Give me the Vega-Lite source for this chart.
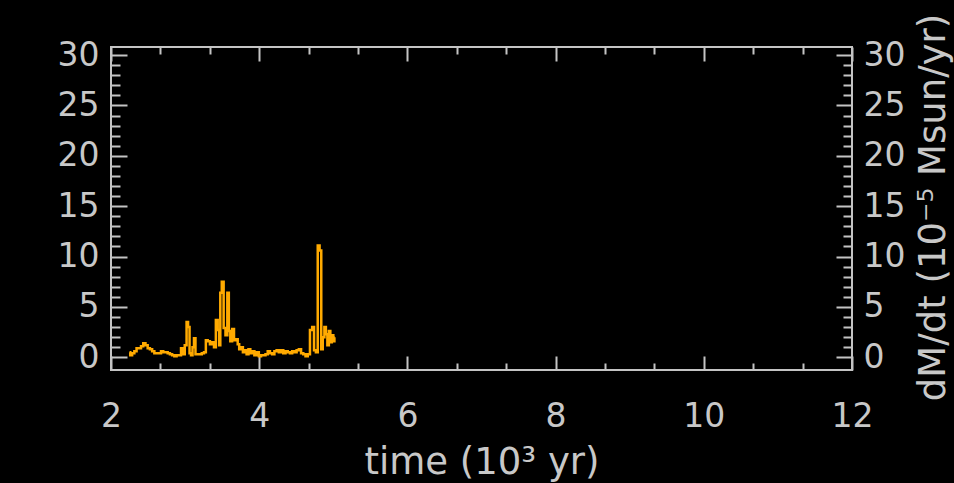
{
  "$schema": "https://vega.github.io/schema/vega-lite/v6.json",
  "autosize": {"type": "none"},
  "padding": {"left": 111, "top": 47, "right": 102, "bottom": 113},
  "width": 741,
  "height": 323,
  "background": "#000000",
  "config": {
    "view": {"stroke": "#c4c4c4", "strokeWidth": 2},
    "axis": {
      "labelFont": "DejaVu Sans",
      "labelColor": "#c8c8c8",
      "labelFontSize": 33,
      "titleFont": "DejaVu Sans",
      "titleColor": "#c8c8c8",
      "titleFontSize": 37,
      "titleFontWeight": "normal",
      "domain": false,
      "grid": false,
      "tickColor": "#c4c4c4",
      "tickWidth": 2,
      "labelFlush": false,
      "labelOverlap": false
    }
  },
  "data": {
    "values": [
      {"t": 2.25, "dmdt": 0.5}, {"t": 2.27, "dmdt": 0.2}, {"t": 2.30, "dmdt": 0.4}, {"t": 2.33, "dmdt": 0.6},
      {"t": 2.36, "dmdt": 0.9}, {"t": 2.39, "dmdt": 0.9}, {"t": 2.42, "dmdt": 1.1}, {"t": 2.45, "dmdt": 1.4},
      {"t": 2.48, "dmdt": 1.2}, {"t": 2.51, "dmdt": 0.9}, {"t": 2.54, "dmdt": 0.8}, {"t": 2.57, "dmdt": 0.6},
      {"t": 2.60, "dmdt": 0.4}, {"t": 2.63, "dmdt": 0.4}, {"t": 2.66, "dmdt": 0.4}, {"t": 2.69, "dmdt": 0.6},
      {"t": 2.72, "dmdt": 0.5}, {"t": 2.75, "dmdt": 0.5}, {"t": 2.78, "dmdt": 0.4}, {"t": 2.81, "dmdt": 0.3},
      {"t": 2.84, "dmdt": 0.2}, {"t": 2.87, "dmdt": 0.1}, {"t": 2.90, "dmdt": 0.2}, {"t": 2.93, "dmdt": 0.2},
      {"t": 2.96, "dmdt": 0.9}, {"t": 2.98, "dmdt": 0.3}, {"t": 3.01, "dmdt": 1.2}, {"t": 3.03, "dmdt": 3.5},
      {"t": 3.05, "dmdt": 3.0}, {"t": 3.07, "dmdt": 0.4}, {"t": 3.09, "dmdt": 0.2}, {"t": 3.11, "dmdt": 1.0},
      {"t": 3.13, "dmdt": 1.9}, {"t": 3.15, "dmdt": 0.3}, {"t": 3.18, "dmdt": 0.3}, {"t": 3.21, "dmdt": 0.3},
      {"t": 3.24, "dmdt": 0.4}, {"t": 3.27, "dmdt": 0.5}, {"t": 3.29, "dmdt": 1.7}, {"t": 3.32, "dmdt": 1.6},
      {"t": 3.35, "dmdt": 1.3}, {"t": 3.38, "dmdt": 1.5}, {"t": 3.40, "dmdt": 1.0}, {"t": 3.43, "dmdt": 3.7},
      {"t": 3.45, "dmdt": 2.7}, {"t": 3.47, "dmdt": 1.2}, {"t": 3.48, "dmdt": 6.4}, {"t": 3.51, "dmdt": 7.5},
      {"t": 3.53, "dmdt": 2.9}, {"t": 3.56, "dmdt": 2.2}, {"t": 3.58, "dmdt": 6.4}, {"t": 3.60, "dmdt": 2.6},
      {"t": 3.62, "dmdt": 1.6}, {"t": 3.65, "dmdt": 2.8}, {"t": 3.67, "dmdt": 1.7}, {"t": 3.70, "dmdt": 1.8},
      {"t": 3.72, "dmdt": 1.3}, {"t": 3.74, "dmdt": 0.8}, {"t": 3.77, "dmdt": 1.0}, {"t": 3.79, "dmdt": 0.5},
      {"t": 3.82, "dmdt": 0.7}, {"t": 3.84, "dmdt": 0.3}, {"t": 3.87, "dmdt": 0.8}, {"t": 3.89, "dmdt": 0.4},
      {"t": 3.92, "dmdt": 0.6}, {"t": 3.95, "dmdt": 0.2}, {"t": 3.98, "dmdt": 0.5}, {"t": 4.01, "dmdt": 0.1},
      {"t": 4.04, "dmdt": 0.2}, {"t": 4.07, "dmdt": 0.2}, {"t": 4.10, "dmdt": 0.3}, {"t": 4.13, "dmdt": 0.6},
      {"t": 4.16, "dmdt": 0.4}, {"t": 4.19, "dmdt": 0.3}, {"t": 4.22, "dmdt": 0.6}, {"t": 4.25, "dmdt": 0.7},
      {"t": 4.28, "dmdt": 0.5}, {"t": 4.31, "dmdt": 0.7}, {"t": 4.34, "dmdt": 0.4}, {"t": 4.37, "dmdt": 0.6},
      {"t": 4.40, "dmdt": 0.5}, {"t": 4.43, "dmdt": 0.4}, {"t": 4.46, "dmdt": 0.6}, {"t": 4.49, "dmdt": 0.5},
      {"t": 4.52, "dmdt": 0.7}, {"t": 4.55, "dmdt": 0.8}, {"t": 4.58, "dmdt": 0.4}, {"t": 4.61, "dmdt": 0.3},
      {"t": 4.64, "dmdt": 0.1}, {"t": 4.67, "dmdt": 0.3}, {"t": 4.70, "dmdt": 2.7}, {"t": 4.73, "dmdt": 3.0},
      {"t": 4.75, "dmdt": 0.7}, {"t": 4.78, "dmdt": 0.5}, {"t": 4.80, "dmdt": 11.1}, {"t": 4.83, "dmdt": 10.6},
      {"t": 4.845, "dmdt": 0.8}, {"t": 4.87, "dmdt": 2.0}, {"t": 4.89, "dmdt": 3.0}, {"t": 4.91, "dmdt": 2.3},
      {"t": 4.93, "dmdt": 1.2}, {"t": 4.95, "dmdt": 2.6}, {"t": 4.97, "dmdt": 1.5}, {"t": 4.99, "dmdt": 2.2},
      {"t": 5.01, "dmdt": 1.6}, {"t": 5.02, "dmdt": 2.0}
    ]
  },
  "resolve": {"axis": {"x": "independent", "y": "independent"}},
  "layer": [
    {
      "mark": {"type": "line", "color": "#ffaa00", "strokeWidth": 2.5, "interpolate": "step"},
      "encoding": {
        "x": {"field": "t", "type": "quantitative", "scale": {"domain": [2, 12], "nice": false, "zero": false},
          "axis": {"orient": "bottom", "values": [2, 4, 6, 8, 10, 12], "format": "d", "ticks": false, "tickSize": 0, "labelPadding": 30,
            "title": "time (10³ yr)", "titleX": 370.5, "titleY": 103, "titleAlign": "center", "titleBaseline": "alphabetic"}},
        "y": {"field": "dmdt", "type": "quantitative", "scale": {"domain": [-1.26, 30.8], "nice": false, "zero": false},
          "axis": {"orient": "left", "values": [0, 5, 10, 15, 20, 25, 30], "format": "d", "ticks": false, "tickSize": 0, "labelPadding": 12, "title": null}}
      }
    },
    {
      "mark": {"type": "line", "strokeOpacity": 0},
      "encoding": {
        "x": {"field": "t", "type": "quantitative", "scale": {"domain": [2, 12], "nice": false, "zero": false},
          "axis": {"orient": "bottom", "values": [2, 4, 6, 8, 10, 12], "labels": false, "tickSize": -14, "title": null}},
        "y": {"field": "dmdt", "type": "quantitative", "scale": {"domain": [-1.26, 30.8], "nice": false, "zero": false},
          "axis": {"orient": "left", "values": [0, 5, 10, 15, 20, 25, 30], "labels": false, "tickSize": -16, "title": null}}
      }
    },
    {
      "mark": {"type": "line", "strokeOpacity": 0},
      "encoding": {
        "x": {"field": "t", "type": "quantitative", "scale": {"domain": [2, 12], "nice": false, "zero": false},
          "axis": {"orient": "bottom", "values": [2.6667, 3.3333, 4.6667, 5.3333, 6.6667, 7.3333, 8.6667, 9.3333, 10.6667, 11.3333], "labels": false, "tickSize": -7, "title": null}},
        "y": {"field": "dmdt", "type": "quantitative", "scale": {"domain": [-1.26, 30.8], "nice": false, "zero": false},
          "axis": {"orient": "left", "values": [1, 2, 3, 4, 6, 7, 8, 9, 11, 12, 13, 14, 16, 17, 18, 19, 21, 22, 23, 24, 26, 27, 28, 29], "labels": false, "tickSize": -9, "title": null}}
      }
    },
    {
      "mark": {"type": "line", "strokeOpacity": 0},
      "encoding": {
        "x": {"field": "t", "type": "quantitative", "scale": {"domain": [2, 12], "nice": false, "zero": false},
          "axis": {"orient": "top", "values": [2, 4, 6, 8, 10, 12], "labels": false, "tickSize": -14, "title": null}},
        "y": {"field": "dmdt", "type": "quantitative", "scale": {"domain": [-1.26, 30.8], "nice": false, "zero": false},
          "axis": {"orient": "right", "values": [0, 5, 10, 15, 20, 25, 30], "format": "d", "ticks": false, "tickSize": 0, "labelPadding": 11,
            "title": "dM/dt (10⁻⁵ Msun/yr)", "titleX": 81, "titleY": 160, "titleFontSize": 37, "titleAngle": 270, "titleAlign": "center", "titleBaseline": "middle"}}
      }
    },
    {
      "mark": {"type": "line", "strokeOpacity": 0},
      "encoding": {
        "x": {"field": "t", "type": "quantitative", "scale": {"domain": [2, 12], "nice": false, "zero": false},
          "axis": {"orient": "top", "values": [2.6667, 3.3333, 4.6667, 5.3333, 6.6667, 7.3333, 8.6667, 9.3333, 10.6667, 11.3333], "labels": false, "tickSize": -7, "title": null}},
        "y": {"field": "dmdt", "type": "quantitative", "scale": {"domain": [-1.26, 30.8], "nice": false, "zero": false},
          "axis": {"orient": "right", "values": [0, 5, 10, 15, 20, 25, 30], "labels": false, "tickSize": -16, "title": null}}
      }
    },
    {
      "mark": {"type": "line", "strokeOpacity": 0},
      "encoding": {
        "x": {"field": "t", "type": "quantitative", "scale": {"domain": [2, 12], "nice": false, "zero": false}, "axis": null},
        "y": {"field": "dmdt", "type": "quantitative", "scale": {"domain": [-1.26, 30.8], "nice": false, "zero": false},
          "axis": {"orient": "right", "values": [1, 2, 3, 4, 6, 7, 8, 9, 11, 12, 13, 14, 16, 17, 18, 19, 21, 22, 23, 24, 26, 27, 28, 29], "labels": false, "tickSize": -9, "title": null}}
      }
    }
  ]
}
